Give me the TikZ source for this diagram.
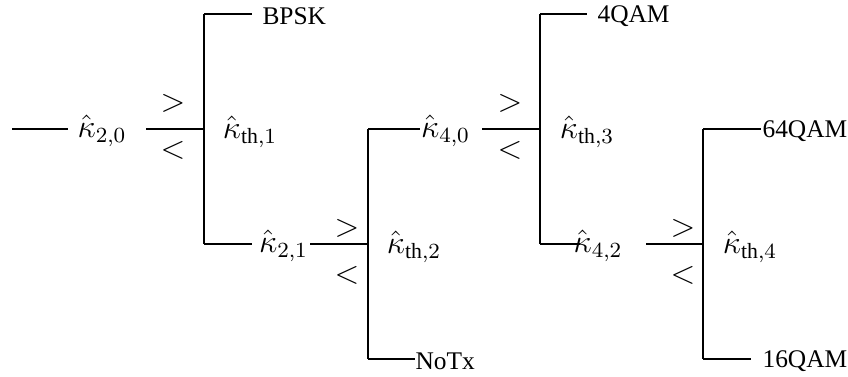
\documentclass[tikz,border=0pt]{standalone}
\usepackage{fontspec}
\setmainfont{Liberation Serif}
\begin{document}
\begin{tikzpicture}[x=0.37pt,y=-0.37pt,
  lbl/.style={inner sep=0pt,font=\fontsize{11.5}{13}\selectfont},
  txt/.style={inner sep=0pt,anchor=west,font=\fontsize{9.4}{11}\selectfont},
  ln/.style={line width=0.4pt,black}]
\useasboundingbox (0,0) rectangle (848,376);
% coordinates
\coordinate (a0) at (12,129);
\coordinate (a1) at (68,129);
\coordinate (a2) at (146,129);
\coordinate (j1) at (204,129);
\coordinate (j1t) at (204,14);
\coordinate (j1b) at (204,244);
\coordinate (bpskl) at (252,14);
\coordinate (b1) at (252,244);
\coordinate (b2) at (310,244);
\coordinate (j2) at (368,244);
\coordinate (j2t) at (368,129);
\coordinate (j2b) at (368,359);
\coordinate (c1) at (420,129);
\coordinate (notxl) at (415,359);
\coordinate (c2) at (482,129);
\coordinate (j3) at (540,129);
\coordinate (j3t) at (540,14);
\coordinate (j3b) at (540,244);
\coordinate (qaml) at (587,14);
\coordinate (d1) at (580,244);
\coordinate (d2) at (646,244);
\coordinate (j4) at (703,244);
\coordinate (j4t) at (703,129);
\coordinate (j4b) at (703,359);
\coordinate (q64l) at (761,129);
\coordinate (q16l) at (751,359);
% labels
\node[lbl] (k20) at (102,131) {$\hat{\kappa}_{2,0}$};
\node[lbl] (gt1) at (173,103) {$>$};
\node[lbl] (lt1) at (173,150) {$<$};
\node[lbl] (kth1) at (250,132) {$\hat{\kappa}_{\mathrm{th},1}$};
\node[txt] (bpsk) at (262,16) {BPSK};
\node[lbl] (k21) at (283.5,246) {$\hat{\kappa}_{2,1}$};
\node[lbl] (gt2) at (347,228) {$>$};
\node[lbl] (lt2) at (347,275) {$<$};
\node[lbl] (kth2) at (414,247) {$\hat{\kappa}_{\mathrm{th},2}$};
\node[lbl] (k40) at (445.5,131) {$\hat{\kappa}_{4,0}$};
\node[txt] (notx) at (415,361) {NoTx};
\node[lbl] (gt3) at (510,103) {$>$};
\node[lbl] (lt3) at (510,150) {$<$};
\node[txt] (qam4) at (597,16) {4QAM};
\node[lbl] (kth3) at (587,132) {$\hat{\kappa}_{\mathrm{th},3}$};
\node[lbl] (k42) at (598,246) {$\hat{\kappa}_{4,2}$};
\node[lbl] (gt4) at (683,228) {$>$};
\node[lbl] (lt4) at (683,275) {$<$};
\node[lbl] (kth4) at (750,247) {$\hat{\kappa}_{\mathrm{th},4}$};
\node[txt] (qam64) at (762,131) {64QAM};
\node[txt] (qam16) at (762,361) {16QAM};
% connectors
\draw[ln] (a0) -- (a1);
\draw[ln] (a2) -- (j1);
\draw[ln] (j1t) -- (j1b);
\draw[ln] (j1t) -- (bpskl);
\draw[ln] (j1b) -- (b1);
\draw[ln] (b2) -- (j2);
\draw[ln] (j2t) -- (j2b);
\draw[ln] (j2t) -- (c1);
\draw[ln] (j2b) -- (notxl);
\draw[ln] (c2) -- (j3);
\draw[ln] (j3t) -- (j3b);
\draw[ln] (j3t) -- (qaml);
\draw[ln] (j3b) -- (d1);
\draw[ln] (d2) -- (j4);
\draw[ln] (j4t) -- (j4b);
\draw[ln] (j4t) -- (q64l);
\draw[ln] (j4b) -- (q16l);
\end{tikzpicture}
\end{document}
